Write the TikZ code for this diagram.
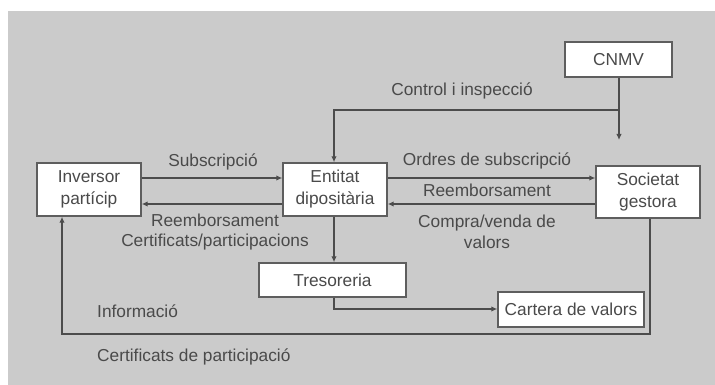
\documentclass[tikz,border=0pt]{standalone}
\usepackage{fontspec}
\setmainfont{Liberation Sans}
\usetikzlibrary{arrows.meta}
\definecolor{panel}{HTML}{CBCBCB}
\definecolor{ink}{HTML}{4A4A4A}
\definecolor{wire}{HTML}{4C4C4C}
\tikzset{
  box/.style={draw=wire!90, fill=white, line width=1.4pt, inner sep=0pt,
              align=center, text=ink, font=\fontsize{17.3}{22}\selectfont},
  lbl/.style={text=ink, align=center, inner sep=0pt,
              font=\fontsize{17.3}{21}\selectfont},
  link/.style={draw=wire, line width=1.6pt},
  arr/.style={link, -{Latex[length=6pt,width=5.5pt]}},
}
\begin{document}
\begin{tikzpicture}[x=1pt,y=-1pt]
  \useasboundingbox (0,0) rectangle (715,385);
  \fill[panel] (8,11) rectangle (715,385);

  % boxes
  \node[box, minimum width=107pt, minimum height=35pt] (cnmv) at (618.5,59.5) {CNMV};
  \node[box, minimum width=104pt, minimum height=53pt] (inv) at (89,189.5) {Inversor\\partícip};
  \node[box, minimum width=104pt, minimum height=53pt] (ent) at (335,189.5) {Entitat\\dipositària};
  \node[box, minimum width=104pt, minimum height=52pt] (soc) at (648,192) {Societat\\gestora};
  \node[box, minimum width=147pt, minimum height=34pt] (tre) at (332.5,280) {Tresoreria};
  \node[box, minimum width=146pt, minimum height=35pt] (car) at (571,309.5) {Cartera de valors};

  % junctions
  \coordinate (split) at (619,110);
  \coordinate (cnmvend) at (619,140);
  \coordinate (entin) at (334,110);
  \coordinate (trein) at (334,0);
  \coordinate (carbend) at (334,309);
  \coordinate (socdown) at (650,334);
  \coordinate (invdown) at (62,334);

  % CNMV supervision
  \draw[arr] (cnmv.south -| split) -- (cnmvend);
  \draw[arr] (split) -- (entin) -- (ent.north -| entin);

  % investor <-> depositary
  \draw[arr] (inv.east |- 0,178) -- (ent.west |- 0,178);
  \draw[arr] (ent.west |- 0,204) -- (inv.east |- 0,204);

  % depositary <-> management company
  \draw[arr] (ent.east |- 0,178) -- (soc.west |- 0,178);
  \draw[arr] (soc.west |- 0,204) -- (ent.east |- 0,204);

  % treasury and portfolio
  \draw[arr] (ent.south -| trein) -- (tre.north -| trein);
  \draw[arr] (tre.south -| carbend) -- (carbend) -- (car.west |- carbend);

  % information back to the investor
  \draw[arr] (soc.south -| socdown) -- (socdown) -- (invdown) -- (inv.south -| invdown);

  % labels
  \node[lbl] (lctrl) at (462,91) {Control i inspecció};
  \node[lbl] (lsub) at (213,162) {Subscripció};
  \node[lbl] (lreem) at (215,232) {Reemborsament\\[-1pt]Certificats/participacions};
  \node[lbl] (lord) at (487,161) {Ordres de subscripció};
  \node[lbl] (lreem2) at (487,190) {Reemborsament};
  \node[lbl] (lcomp) at (487,231.5) {Compra/venda de\\valors};
  \node[lbl, anchor=west] (linfo) at (97,311) {Informació};
  \node[lbl, anchor=west] (lcert) at (97,357) {Certificats de participació};
\end{tikzpicture}
\end{document}
